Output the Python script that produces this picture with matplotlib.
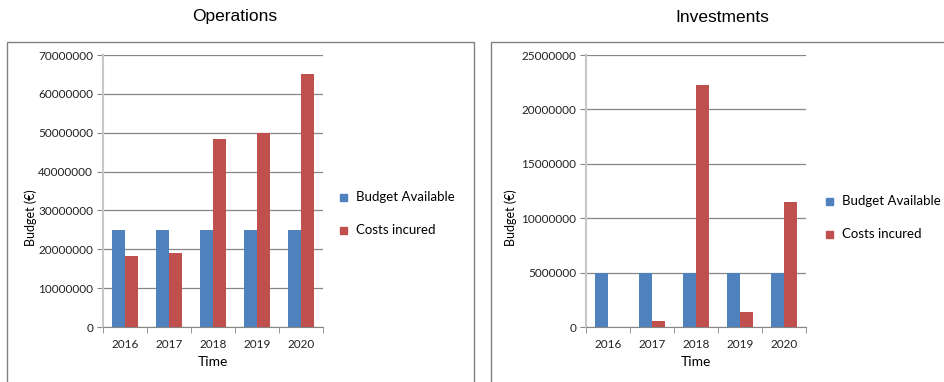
import numpy as np
import matplotlib
matplotlib.use('Agg')
import matplotlib.pyplot as plt
from matplotlib.patches import Rectangle
from matplotlib.ticker import FuncFormatter

# Budget data per year (EUR)
years = ['2016', '2017', '2018', '2019', '2020']
ops_budget = [25000000, 25000000, 25000000, 25000000, 25000000]
ops_costs = [18300000, 19000000, 48300000, 49900000, 65000000]
inv_budget = [5000000, 5000000, 5000000, 5000000, 5000000]
inv_costs = [0, 550000, 22200000, 1400000, 11500000]

blue = '#4F81BD'
red = '#C0504D'
grid_grey = '#868686'
font = 'Lato'

fig = plt.figure(figsize=(9.45, 3.82), dpi=100)

# Chart frames
fig.patches.append(Rectangle((7/945, -0.02), (474-7)/945, 1.02-42/382, transform=fig.transFigure,
                             fill=False, edgecolor='#808080', linewidth=1.0))
fig.patches.append(Rectangle((491/945, -0.02), 0.5, 1.02-42/382, transform=fig.transFigure,
                             fill=False, edgecolor='#808080', linewidth=1.0))


def draw_panel(left, title, title_x, budget, costs, ymax, ystep, leg_x, leg_y, ylab_x):
    ax = fig.add_axes([left, 1-327/382, 220/945, (327-55)/382])
    x = np.arange(len(years))
    w = 0.285
    ax.bar(x - w/2, budget, w, color=blue, zorder=3)
    ax.bar(x + w/2, costs, w, color=red, zorder=3)
    ax.set_xlim(-0.5, len(years) - 0.5)
    ax.set_ylim(0, ymax)
    ax.set_yticks(np.arange(0, ymax + 1, ystep))
    ax.yaxis.set_major_formatter(FuncFormatter(lambda v, p: '%d' % v))
    ax.grid(axis='y', color=grid_grey, linewidth=0.9, zorder=0)
    for s in ['top', 'right']:
        ax.spines[s].set_visible(False)
    ax.spines['left'].set_color('#c8c8c8')
    ax.spines['left'].set_linewidth(1.5)
    ax.spines['bottom'].set_color(grid_grey)
    ax.tick_params(axis='y', length=4, color=grid_grey, labelsize=8.5, pad=3, labelcolor='#222222')
    ax.tick_params(axis='x', length=0, labelsize=8.5, pad=9, labelcolor='#222222')
    ax.set_xticks(x)
    ax.set_xticklabels(years)
    # tick marks between categories
    ax.set_xticks(np.arange(-0.5, len(years)), minor=True)
    ax.tick_params(axis='x', which='minor', length=4, color=grid_grey)
    for lab in ax.get_xticklabels() + ax.get_yticklabels():
        lab.set_fontfamily(font)
    ax.set_xlabel('Time', fontsize=10, fontfamily=font, labelpad=4)
    fig.text(ylab_x/945, 1-218/382, 'Budget (€)', rotation=90, ha='center', va='center',
             fontsize=9, fontfamily=font)
    fig.text(title_x/945, 1-17/382, title, ha='center', va='center', fontsize=12.5,
             fontfamily='Liberation Sans')
    # legend
    for i, (lbl, col) in enumerate([('Budget Available', blue), ('Costs incured', red)]):
        yy = 1 - (leg_y + i*33)/382
        fig.patches.append(Rectangle(((leg_x-3)/945, yy - 3.5/382), 7/945, 7/382,
                                     transform=fig.transFigure, color=col))
        fig.text((leg_x+13)/945, yy, lbl, va='center', ha='left', fontsize=9.5, fontfamily=font)
    return ax


draw_panel(103/945, 'Operations', 235, ops_budget, ops_costs, 70000000, 10000000, 343, 197, 31)
draw_panel(586/945, 'Investments', 722, inv_budget, inv_costs, 25000000, 5000000, 829, 201, 511)

fig.savefig('out.png', dpi=100)
